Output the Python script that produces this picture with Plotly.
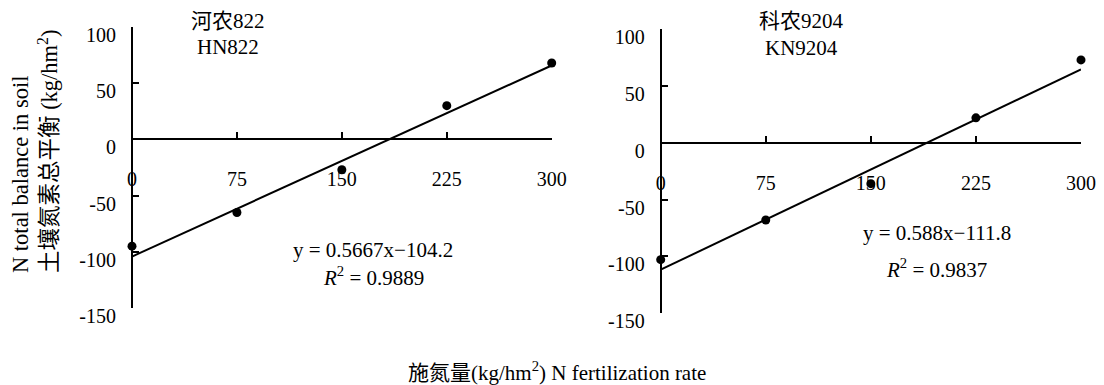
import plotly.graph_objects as go

# ---- data ----
n_rate = [0, 75, 150, 225, 300]
hn822_balance = [-95, -65, -27, 30, 68]
kn9204_balance = [-103, -68, -36, 22, 73]
hn822_fit = (0.5667, -104.2)
kn9204_fit = (0.588, -111.8)
hn822_r2 = 0.9889
kn9204_r2 = 0.9837
x_ticks = [0, 75, 150, 225, 300]
y_ticks = [-150, -100, -50, 0, 50, 100]

# page body has an 8px margin; figure sized to fill the rest of the window
OFF = 8
W, H = 1104 - OFF, 385 - OFF
FONT = "'Liberation Serif', 'Times New Roman', 'Noto Sans CJK SC', serif"

def px_x(p):
    return (p - OFF) / W

def px_y(p):
    return (H - (p - OFF)) / H

fig = go.Figure()

panels = [
    dict(xa="x", ya="y", data=hn822_balance, fit=hn822_fit),
    dict(xa="x2", ya="y2", data=kn9204_balance, fit=kn9204_fit),
]
for p in panels:
    fig.add_trace(go.Scatter(
        x=n_rate, y=p["data"], mode="markers", xaxis=p["xa"], yaxis=p["ya"],
        marker=dict(color="black", size=9), cliponaxis=False, showlegend=False))
    a, b = p["fit"]
    xs = [n_rate[0], n_rate[-1]]
    fig.add_trace(go.Scatter(
        x=xs, y=[a * v + b for v in xs], mode="lines", xaxis=p["xa"], yaxis=p["ya"],
        line=dict(color="black", width=2), cliponaxis=False, showlegend=False))

# geometry in reference pixels
L = dict(x0=132, x1=551.7, ytop=27, ybot=308)
R = dict(x0=660.7, x1=1081, ytop=29.3, ybot=313)

def zero_pos(g):
    b = px_y(g["ybot"]); t = px_y(g["ytop"])
    return b + (0 - (-150)) / 250 * (t - b)

ax_common = dict(showgrid=False, zeroline=False, showline=True, linecolor="black",
                 linewidth=2, ticks="inside", ticklen=6, tickwidth=2, tickcolor="black",
                 automargin=False,
                 tickfont=dict(family=FONT, size=20, color="black"))

y_text = [str(v) for v in y_ticks]
x_text = [str(v) for v in x_ticks]

fig.update_layout(
    width=W, height=H, margin=dict(l=0, r=0, t=0, b=0, pad=0, autoexpand=False),
    paper_bgcolor="white", plot_bgcolor="white",
    xaxis=dict(domain=[px_x(L["x0"]), px_x(L["x1"])], range=[0, 300],
               tickvals=x_ticks, ticktext=x_text, anchor="free", position=zero_pos(L),
               ticklabelstandoff=22, **ax_common),
    yaxis=dict(domain=[px_y(L["ybot"]), px_y(L["ytop"])], range=[-150, 100],
               tickvals=y_ticks, ticktext=y_text, anchor="free", position=px_x(L["x0"]),
               ticklabelshift=8, ticklabelstandoff=11, **ax_common),
    xaxis2=dict(domain=[px_x(R["x0"]), px_x(R["x1"])], range=[0, 300],
                tickvals=x_ticks, ticktext=x_text, anchor="free", position=zero_pos(R),
                ticklabelstandoff=22, **ax_common),
    yaxis2=dict(domain=[px_y(R["ybot"]), px_y(R["ytop"])], range=[-150, 100],
                tickvals=y_ticks, ticktext=y_text, anchor="free", position=px_x(R["x0"]),
                ticklabelshift=8, ticklabelstandoff=11, **ax_common),
)

def ann(text, x, y, size=21, **kw):
    d = dict(text=text, x=px_x(x), y=px_y(y), xref="paper", yref="paper",
             showarrow=False, xanchor="center", yanchor="middle",
             font=dict(family=FONT, size=size, color="black"))
    d.update(kw)
    fig.add_annotation(**d)

ann("河农822", 228, 21)
ann("HN822", 228, 47)
ann("科农9204", 801, 21)
ann("KN9204", 801, 48)
ann(f"y = {hn822_fit[0]}x−{abs(hn822_fit[1])}", 373, 250)
ann(f"<i>R</i><sup>2</sup> = {hn822_r2}", 373, 277)
ann(f"y = {kn9204_fit[0]}x−{abs(kn9204_fit[1])}", 937, 233)
ann(f"<i>R</i><sup>2</sup> = {kn9204_r2}", 936, 268)
ann("施氮量(kg/hm<sup>2</sup>) N fertilization rate", 557, 371)
ann("N total balance in soil<br>土壤氮素总平衡 (kg/hm<sup>2</sup>)", 35, 275,
    size=22.5, yanchor="bottom", textangle=-90, align="left")

fig.write_html("out.html")
